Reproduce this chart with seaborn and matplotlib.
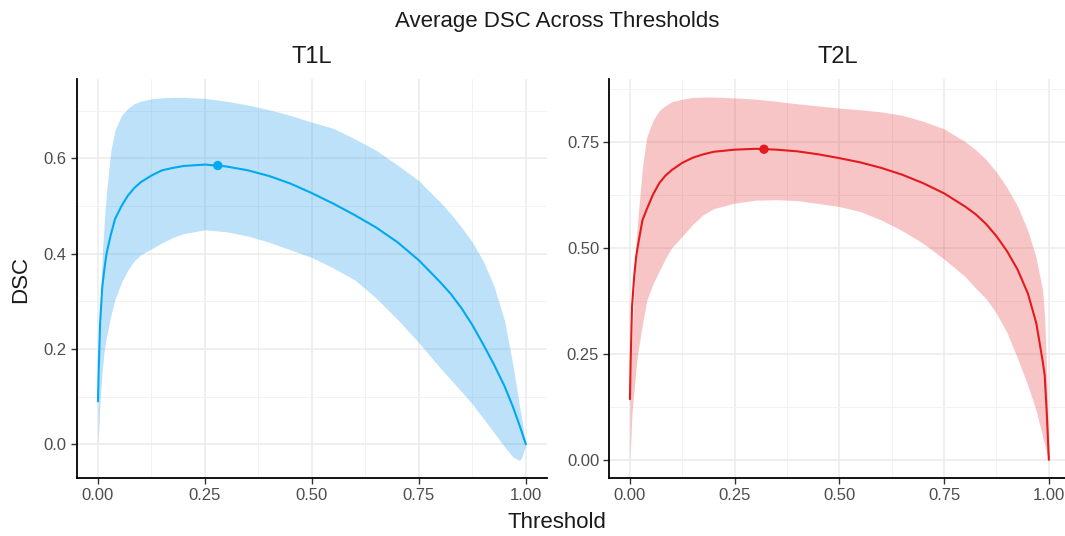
import numpy as np
import pandas as pd
import matplotlib
matplotlib.use("Agg")
import matplotlib.pyplot as plt
import seaborn as sns
from matplotlib.ticker import MultipleLocator

# ---------------- data ----------------
threshold = [0, 0.002, 0.005, 0.01, 0.015, 0.02, 0.03, 0.04, 0.055, 0.07, 0.085,
             0.1, 0.125, 0.15, 0.175, 0.2, 0.25, 0.3, 0.35, 0.4, 0.45, 0.5, 0.55,
             0.6, 0.65, 0.7, 0.75, 0.8, 0.825, 0.85, 0.875, 0.9, 0.925, 0.95,
             0.97, 0.985, 0.99, 0.995, 1.0]

t1l_mean = [0.09, 0.165, 0.255, 0.33, 0.368, 0.40, 0.44, 0.473, 0.50, 0.522, 0.538,
            0.55, 0.564, 0.575, 0.580, 0.584, 0.587, 0.583, 0.575, 0.563, 0.547,
            0.527, 0.505, 0.481, 0.455, 0.424, 0.386, 0.340, 0.315, 0.285, 0.250,
            0.210, 0.168, 0.122, 0.078, 0.040, 0.027, 0.013, 0.0]
t1l_upper = [0.10, 0.15, 0.28, 0.40, 0.47, 0.53, 0.615, 0.66, 0.69, 0.705, 0.715,
             0.72, 0.725, 0.727, 0.728, 0.728, 0.726, 0.72, 0.712, 0.702, 0.69,
             0.676, 0.663, 0.641, 0.617, 0.586, 0.553, 0.508, 0.483, 0.455, 0.424,
             0.385, 0.333, 0.26, 0.165, 0.08, 0.055, 0.025, 0.0]
t1l_lower = [0.0, 0.03, 0.09, 0.155, 0.20, 0.225, 0.27, 0.305, 0.34, 0.366, 0.385,
             0.398, 0.41, 0.423, 0.434, 0.442, 0.45, 0.446, 0.437, 0.424, 0.408,
             0.392, 0.37, 0.345, 0.307, 0.262, 0.213, 0.16, 0.135, 0.11, 0.084,
             0.055, 0.025, -0.005, -0.027, -0.034, -0.028, -0.015, 0.0]

t2l_mean = [0.143, 0.24, 0.36, 0.43, 0.48, 0.51, 0.565, 0.59, 0.625, 0.652, 0.67,
            0.683, 0.70, 0.712, 0.720, 0.726, 0.731, 0.733, 0.731, 0.727, 0.72,
            0.711, 0.701, 0.688, 0.672, 0.652, 0.628, 0.597, 0.579, 0.556, 0.527,
            0.492, 0.449, 0.392, 0.322, 0.234, 0.20, 0.11, 0.0]
t2l_upper = [0.15, 0.20, 0.28, 0.40, 0.52, 0.58, 0.69, 0.76, 0.80, 0.823, 0.835,
             0.844, 0.85, 0.854, 0.855, 0.855, 0.853, 0.85, 0.845, 0.839, 0.834,
             0.829, 0.825, 0.82, 0.812, 0.798, 0.78, 0.75, 0.731, 0.708, 0.678,
             0.642, 0.598, 0.54, 0.475, 0.40, 0.335, 0.20, 0.0]
t2l_lower = [0.0, 0.04, 0.11, 0.165, 0.22, 0.26, 0.32, 0.375, 0.415, 0.445, 0.475,
             0.50, 0.527, 0.555, 0.578, 0.592, 0.605, 0.612, 0.613, 0.611, 0.604,
             0.597, 0.585, 0.565, 0.54, 0.51, 0.473, 0.432, 0.405, 0.38, 0.345,
             0.30, 0.24, 0.175, 0.115, 0.055, 0.035, 0.015, 0.0]

best_t1l = (0.28, 0.585)
best_t2l = (0.32, 0.732)

panels = ["T1L", "T2L"]
x_ticks = [0.0, 0.25, 0.5, 0.75, 1.0]
x_tick_labels = ["0.00", "0.25", "0.50", "0.75", "1.00"]
y_ticks_t1l = [0.0, 0.2, 0.4, 0.6]
y_tick_labels_t1l = ["0.0", "0.2", "0.4", "0.6"]
y_ticks_t2l = [0.0, 0.25, 0.5, 0.75]
y_tick_labels_t2l = ["0.00", "0.25", "0.50", "0.75"]

# ---------------- style ----------------
sns.set_theme(style="white")
plt.rcParams["font.family"] = ["Liberation Sans", "DejaVu Sans"]

fig = plt.figure(figsize=(10.65, 5.36), dpi=100)
ax1 = fig.add_axes([0.0719, 0.108, 0.442, 0.745])
ax2 = fig.add_axes([0.5718, 0.108, 0.428, 0.745])

specs = [
    (ax1, t1l_mean, t1l_lower, t1l_upper, best_t1l, "#00A9F0", "#269EEE", 0.30,
     (-0.05, 1.05), (-0.071, 0.767), y_ticks_t1l, y_tick_labels_t1l, 0.1),
    (ax2, t2l_mean, t2l_lower, t2l_upper, best_t2l, "#E41A1C", "#E41A1C", 0.25,
     (-0.05, 1.038), (-0.043, 0.898), y_ticks_t2l, y_tick_labels_t2l, 0.125),
]

for ax, mean, lo, hi, best, col, fcol, falpha, xl, yl, yt, ytl, yminor in specs:
    df = pd.DataFrame({"Threshold": threshold, "DSC": mean, "lo": lo, "hi": hi})
    ax.fill_between(df["Threshold"], df["lo"], df["hi"], color=fcol, alpha=falpha,
                    lw=0, zorder=2)
    sns.lineplot(data=df, x="Threshold", y="DSC", color=col, lw=1.5,
                 errorbar=None, ax=ax, zorder=3)
    sns.scatterplot(x=[best[0]], y=[best[1]], color=col, s=45, edgecolor="none",
                    ax=ax, zorder=4)
    ax.set_xlim(*xl)
    ax.set_ylim(*yl)
    ax.set_xticks(x_ticks)
    ax.set_xticklabels(x_tick_labels)
    ax.set_yticks(yt)
    ax.set_yticklabels(ytl)
    ax.xaxis.set_minor_locator(MultipleLocator(0.125))
    ax.yaxis.set_minor_locator(MultipleLocator(yminor))
    ax.set_axisbelow(True)
    ax.grid(which="major", color="#EBEBEB", lw=1.1)
    ax.grid(which="minor", color="#F2F2F2", lw=0.7)
    ax.tick_params(which="major", length=4, width=1, color="#333333",
                   labelsize=12, labelcolor="#4D4D4D", pad=3,
                   bottom=True, left=True)
    ax.tick_params(which="minor", length=0)
    for s in ["top", "right"]:
        ax.spines[s].set_visible(False)
    for s in ["left", "bottom"]:
        ax.spines[s].set_color("black")
        ax.spines[s].set_linewidth(1.3)
    ax.set_xlabel("")
    ax.set_ylabel("")
    ax.set_facecolor("white")

fig.text(0.523, 0.959, "Average DSC Across Thresholds", ha="center", va="center",
         fontsize=16, color="#1a1a1a")
fig.text(0.293, 0.894, "T1L", ha="center", va="center", fontsize=17, color="#1a1a1a")
fig.text(0.787, 0.894, "T2L", ha="center", va="center", fontsize=17, color="#1a1a1a")
fig.text(0.019, 0.478, "DSC", rotation=90, ha="center", va="center", fontsize=16,
         color="#1a1a1a")
fig.text(0.523, 0.014, "Threshold", ha="center", va="baseline", fontsize=16,
         color="#1a1a1a")

fig.savefig("out.png", dpi=100, facecolor="white")
